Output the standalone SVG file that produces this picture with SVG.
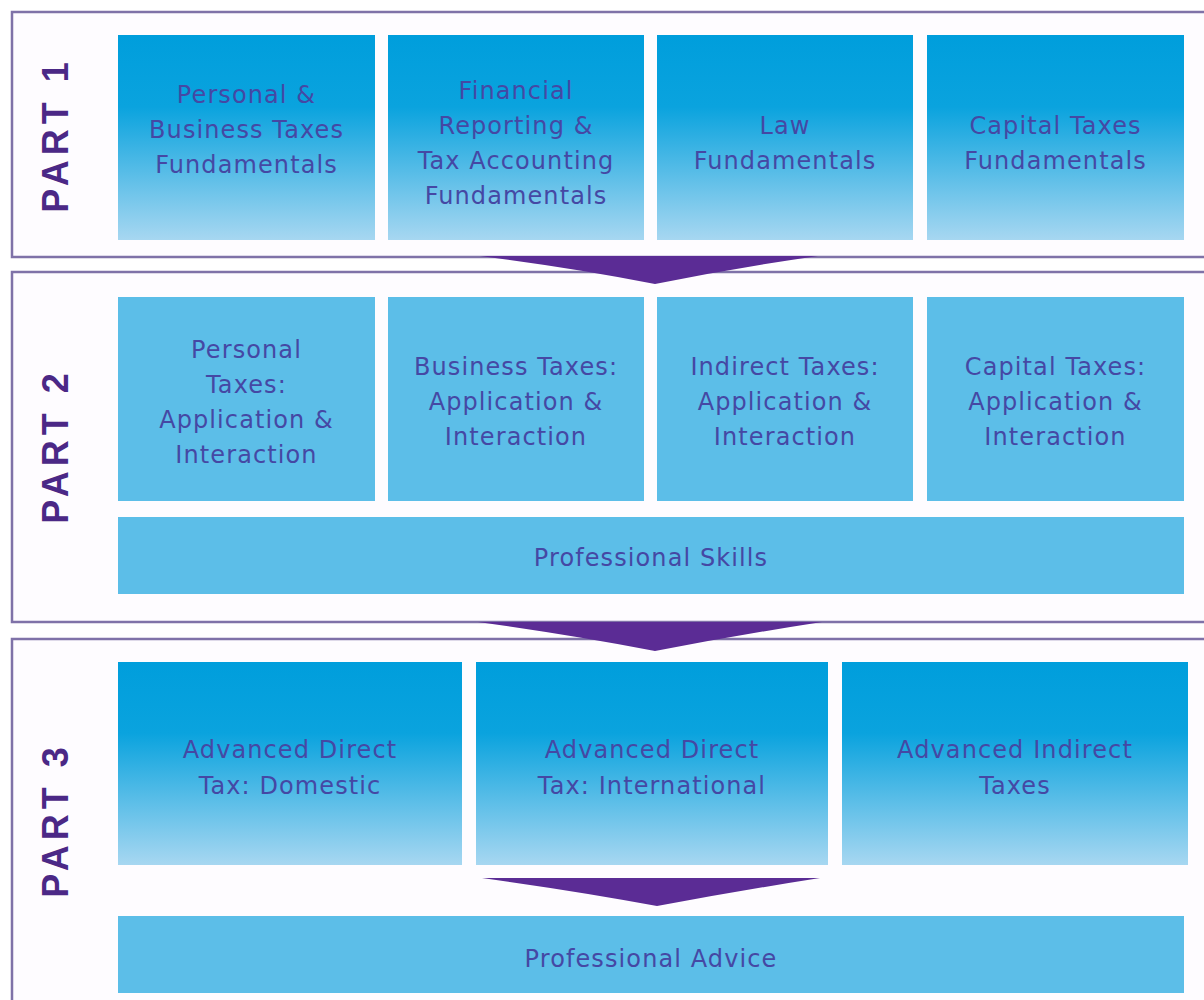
<svg xmlns="http://www.w3.org/2000/svg" width="1204" height="1000" viewBox="0 0 1204 1000">
<defs>
<linearGradient id="g" x1="0" y1="0" x2="0" y2="1">
<stop offset="0" stop-color="#009edc"/>
<stop offset="0.35" stop-color="#0aa3de"/>
<stop offset="1" stop-color="#a7d7f1"/>
</linearGradient>
<style>
.frame{fill:#fefcff;stroke:#7f72a8;stroke-width:2.5}
.grad{fill:url(#g)}
.solid{fill:#5cbee8}
.t{font-family:"DejaVu Sans","Noto Sans",sans-serif;font-size:24px;letter-spacing:1.1px;fill:#4548a4;text-anchor:middle}
.part{font-family:"Liberation Sans","Arial",sans-serif;font-weight:bold;font-size:36px;letter-spacing:5px;fill:#4b2886;text-anchor:middle}
.arrow{fill:#5b2c95}
</style>
</defs>
<rect width="1204" height="1000" fill="#ffffff"/>
<g id="frames">
<rect class="frame" x="12" y="12" width="1220" height="245"/>
<rect class="frame" x="12" y="272" width="1220" height="350"/>
<rect class="frame" x="12" y="639" width="1220" height="400"/>
</g>
<g id="labels">
<text class="part" transform="translate(68,135) rotate(-90)">PART 1</text>
<text class="part" transform="translate(68,446) rotate(-90)">PART 2</text>
<text class="part" transform="translate(68,820) rotate(-90)">PART 3</text>
</g>
<g id="p1-personal-business"><rect class="grad" x="118" y="35" width="257" height="205"/>
<text class="t" x="246.5" y="103">Personal &amp;</text><text class="t" x="246.5" y="138">Business Taxes</text><text class="t" x="246.5" y="173">Fundamentals</text></g>
<g id="p1-financial"><rect class="grad" x="388" y="35" width="256" height="205"/>
<text class="t" x="516" y="99">Financial</text><text class="t" x="516" y="134">Reporting &amp;</text><text class="t" x="516" y="169">Tax Accounting</text><text class="t" x="516" y="204">Fundamentals</text></g>
<g id="p1-law"><rect class="grad" x="657" y="35" width="256" height="205"/>
<text class="t" x="785" y="134">Law</text><text class="t" x="785" y="169">Fundamentals</text></g>
<g id="p1-capital"><rect class="grad" x="927" y="35" width="257" height="205"/>
<text class="t" x="1055.5" y="134">Capital Taxes</text><text class="t" x="1055.5" y="169">Fundamentals</text></g>
<g id="p2-personal"><rect class="solid" x="118" y="297" width="257" height="204"/>
<text class="t" x="246.5" y="358">Personal</text><text class="t" x="246.5" y="393">Taxes:</text><text class="t" x="246.5" y="428">Application &amp;</text><text class="t" x="246.5" y="463">Interaction</text></g>
<g id="p2-business"><rect class="solid" x="388" y="297" width="256" height="204"/>
<text class="t" x="516" y="375">Business Taxes:</text><text class="t" x="516" y="410">Application &amp;</text><text class="t" x="516" y="445">Interaction</text></g>
<g id="p2-indirect"><rect class="solid" x="657" y="297" width="256" height="204"/>
<text class="t" x="785" y="375">Indirect Taxes:</text><text class="t" x="785" y="410">Application &amp;</text><text class="t" x="785" y="445">Interaction</text></g>
<g id="p2-capital"><rect class="solid" x="927" y="297" width="257" height="204"/>
<text class="t" x="1055.5" y="375">Capital Taxes:</text><text class="t" x="1055.5" y="410">Application &amp;</text><text class="t" x="1055.5" y="445">Interaction</text></g>
<g id="p2-skills"><rect class="solid" x="118" y="517" width="1066" height="77"/>
<text class="t" x="651" y="566">Professional Skills</text></g>
<g id="p3-domestic"><rect class="grad" x="118" y="662" width="344" height="203"/>
<text class="t" x="290" y="758">Advanced Direct</text><text class="t" x="290" y="794">Tax: Domestic</text></g>
<g id="p3-international"><rect class="grad" x="476" y="662" width="352" height="203"/>
<text class="t" x="652" y="758">Advanced Direct</text><text class="t" x="652" y="794">Tax: International</text></g>
<g id="p3-indirect"><rect class="grad" x="842" y="662" width="346" height="203"/>
<text class="t" x="1015" y="758">Advanced Indirect</text><text class="t" x="1015" y="794">Taxes</text></g>
<g id="p3-advice"><rect class="solid" x="118" y="916" width="1066" height="77"/>
<text class="t" x="651" y="967">Professional Advice</text></g>
<g id="connectors">
<path class="arrow" d="M480,256 L818,256 Q735,268 655,284 Q575,268 480,256 Z"/>
<path class="arrow" d="M478,622 L822,622 Q738,635 655,651 Q572,635 478,622 Z"/>
<path class="arrow" d="M482,878 L820,878 Q737,891 657,906 Q577,891 482,878 Z"/>
</g>
</svg>
